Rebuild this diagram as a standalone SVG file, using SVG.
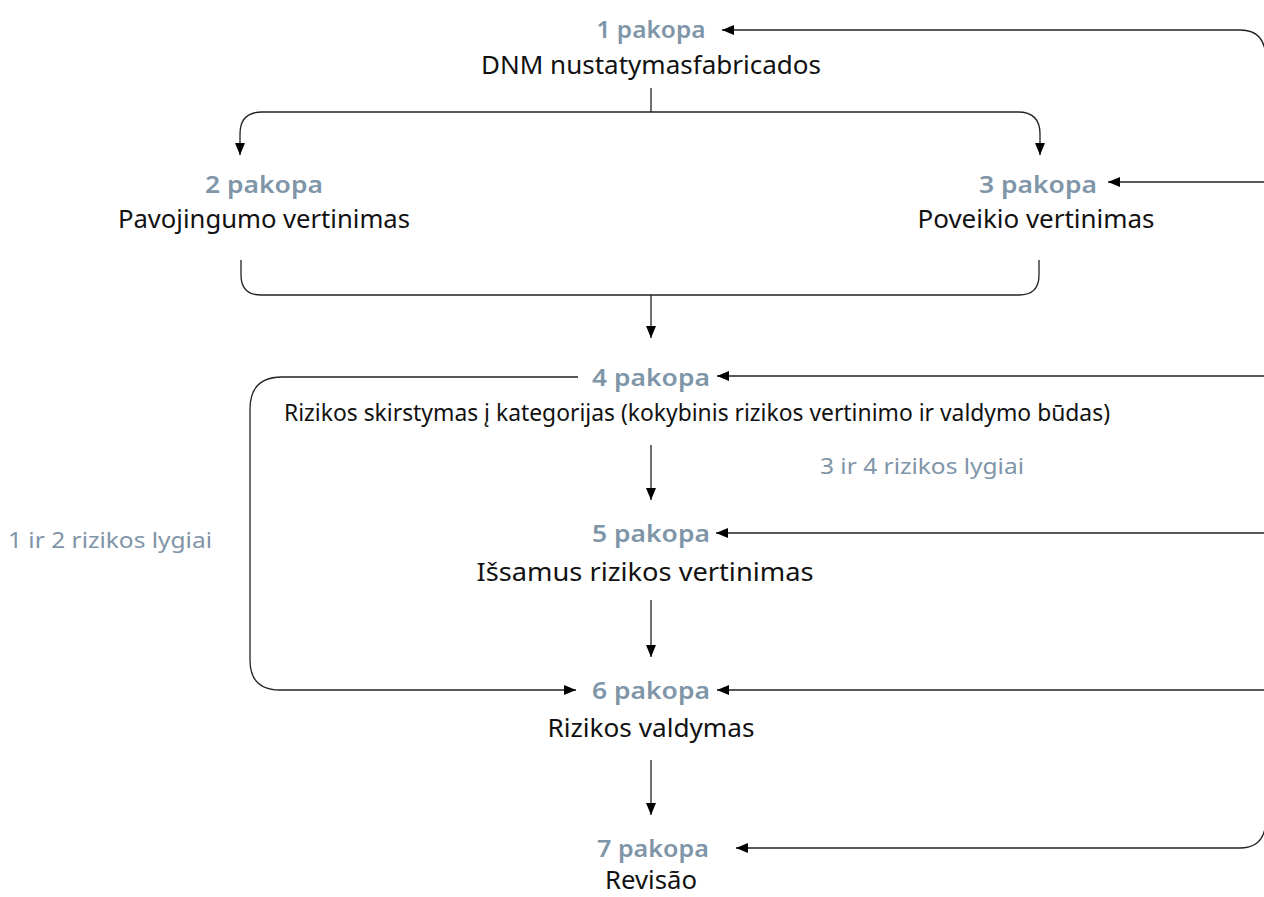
<svg xmlns="http://www.w3.org/2000/svg" width="1264" height="897" viewBox="0 0 1264 897">
<style>
.step{font-family:"Noto Sans","Open Sans",sans-serif;font-weight:600;font-size:24px;fill:#7f95a8;text-anchor:middle}
.lbl{font-family:"Noto Sans","Open Sans",sans-serif;font-size:25px;fill:#111;text-anchor:middle}
.cond{font-family:"Noto Sans","Open Sans",sans-serif;font-size:24px;fill:#111;text-anchor:middle}
.note{font-family:"Noto Sans","Open Sans",sans-serif;font-size:21px;fill:#7f95a8;text-anchor:middle}
.c{fill:none;stroke:#222;stroke-width:1.3}
</style>
<defs>
<marker id="ah" markerUnits="userSpaceOnUse" markerWidth="12" markerHeight="10" refX="12" refY="5" orient="auto">
<path d="M0,0 L12,5 L0,10 z" fill="#000"/>
</marker>
</defs>
<g id="connectors">
<path class="c" d="M651 88 V112"/>
<path class="c" d="M651 112 H262 Q240 112 240 134 V155" marker-end="url(#ah)"/>
<path class="c" d="M651 112 H1018 Q1040 112 1040 134 V155" marker-end="url(#ah)"/>
<path class="c" d="M241 260 V275 Q241 295 261 295 H1019 Q1039 295 1039 275 V260"/>
<path class="c" d="M651 295 V338" marker-end="url(#ah)"/>
<path class="c" d="M1266 60 Q1266 30 1240 30 H722" marker-end="url(#ah)"/>
<path class="c" d="M1266 60 V818"/>
<path class="c" d="M1266 818 Q1266 848 1240 848 H736" marker-end="url(#ah)"/>
<path class="c" d="M1266 182 H1108" marker-end="url(#ah)"/>
<path class="c" d="M1266 376 H717" marker-end="url(#ah)"/>
<path class="c" d="M1266 533 H716" marker-end="url(#ah)"/>
<path class="c" d="M1266 690 H717" marker-end="url(#ah)"/>
<path class="c" d="M578 377 H282 Q250 377 250 409 V660 Q250 690 280 690 H576" marker-end="url(#ah)"/>
<path class="c" d="M651 445 V500" marker-end="url(#ah)"/>
<path class="c" d="M651 600 V657" marker-end="url(#ah)"/>
<path class="c" d="M651 760 V815" marker-end="url(#ah)"/>
</g>
<g id="n1">
<text class="step" x="651" y="38" textLength="109" lengthAdjust="spacingAndGlyphs">1 pakopa</text>
<text class="lbl" x="651" y="74" textLength="340" lengthAdjust="spacingAndGlyphs">DNM nustatymasfabricados</text>
</g>
<g id="n2">
<text class="step" x="264" y="193" textLength="118" lengthAdjust="spacingAndGlyphs">2 pakopa</text>
<text class="lbl" x="264" y="228" textLength="292" lengthAdjust="spacingAndGlyphs">Pavojingumo vertinimas</text>
</g>
<g id="n3">
<text class="step" x="1038" y="193" textLength="118" lengthAdjust="spacingAndGlyphs">3 pakopa</text>
<text class="lbl" x="1036" y="228" textLength="237" lengthAdjust="spacingAndGlyphs">Poveikio vertinimas</text>
</g>
<g id="n4">
<text class="step" x="651" y="386" textLength="118" lengthAdjust="spacingAndGlyphs">4 pakopa</text>
<text class="cond" x="697" y="421" textLength="826" lengthAdjust="spacingAndGlyphs">Rizikos skirstymas į kategorijas (kokybinis rizikos vertinimo ir valdymo būdas)</text>
</g>
<g id="note34"><text class="note" x="922" y="474" textLength="204" lengthAdjust="spacingAndGlyphs">3 ir 4 rizikos lygiai</text></g>
<g id="note12"><text class="note" x="110" y="548" textLength="204" lengthAdjust="spacingAndGlyphs">1 ir 2 rizikos lygiai</text></g>
<g id="n5">
<text class="step" x="651" y="542" textLength="118" lengthAdjust="spacingAndGlyphs">5 pakopa</text>
<text class="lbl" x="645" y="581" textLength="337" lengthAdjust="spacingAndGlyphs">Išsamus rizikos vertinimas</text>
</g>
<g id="n6">
<text class="step" x="651" y="699" textLength="118" lengthAdjust="spacingAndGlyphs">6 pakopa</text>
<text class="lbl" x="651" y="737" textLength="207" lengthAdjust="spacingAndGlyphs">Rizikos valdymas</text>
</g>
<g id="n7">
<text class="step" x="653" y="857" textLength="112" lengthAdjust="spacingAndGlyphs">7 pakopa</text>
<text class="lbl" x="651" y="889" textLength="92" lengthAdjust="spacingAndGlyphs">Revisão</text>
</g>
</svg>
